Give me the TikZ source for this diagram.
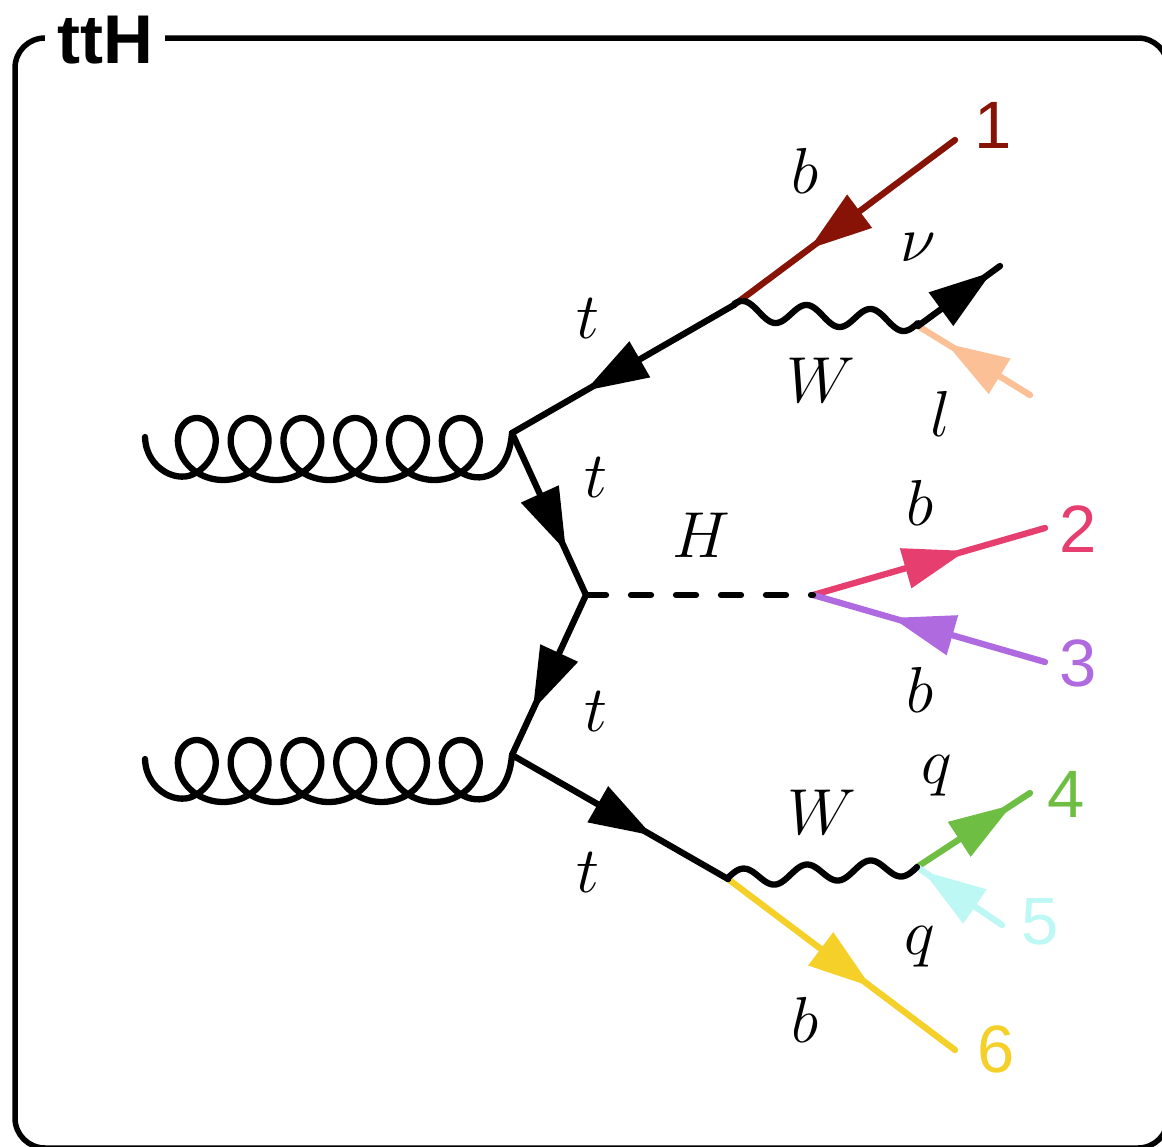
\RequirePackage{fix-cm}
\documentclass[tikz,border=0pt]{standalone}
\usepackage{fontspec}
\newfontfamily\lsans{Liberation Sans}
\usetikzlibrary{arrows.meta,decorations.markings}
\definecolor{cbone}{RGB}{134,19,6}
\definecolor{clep}{RGB}{252,192,150}
\definecolor{cbtwo}{RGB}{230,62,110}
\definecolor{cbthree}{RGB}{176,106,224}
\definecolor{cqfour}{RGB}{110,190,68}
\definecolor{cqfive}{RGB}{190,248,244}
\definecolor{cbsix}{RGB}{244,208,40}
\tikzset{
  pline/.style={line width=6.3pt, line cap=round, line join=round},
  fermion/.style={pline, postaction={decorate},
    decoration={markings, mark=at position #1 with {\arrow{Triangle[length=63pt,width=40pt]}}}},
  higgs/.style={pline, dash pattern=on 20pt off 25pt},
  lab/.style={font=\fontsize{65}{70}\selectfont, inner sep=0pt},
  num/.style={font=\lsans\fontsize{67}{72}\selectfont, inner sep=0pt},
}
\begin{document}
\begin{tikzpicture}[x=1pt, y=-1pt]
\useasboundingbox (0,0) rectangle (1162,1146);
% frame
\draw[line width=5.5pt, rounded corners=30pt] (15,38) rectangle (1168,1148);
\node[fill=white, inner xsep=12pt, inner ysep=2pt, anchor=base west,
      font=\lsans\bfseries\fontsize{69}{74}\selectfont] (title) at (45,63) {ttH};

% vertices
\coordinate (A) at (512,433);
\coordinate (C) at (586,595);
\coordinate (D) at (512,755);
\coordinate (B) at (734,305);
\coordinate (E) at (728,879);
\coordinate (H) at (813,595);
\coordinate (Wu) at (918,326);
\coordinate (Wl) at (917,867);
\coordinate (g1) at (145,437);
\coordinate (g2) at (145,759);
\coordinate (e1) at (955,140);
\coordinate (enu) at (1000,266);
\coordinate (el) at (1030,395);
\coordinate (e2) at (1045,528);
\coordinate (e3) at (1045,662);
\coordinate (e4) at (1030,793);
\coordinate (e5) at (1002,925);
\coordinate (e6) at (955,1050);

% coloured outgoing lines
\draw[fermion=0.66, cbone] (e1) -- (B);
\draw[fermion=0.75, clep] (el) -- (Wu);
\draw[fermion=0.66, cbtwo] (H) -- (e2);
\draw[fermion=0.66, cbthree] (e3) -- (H);
\draw[fermion=0.84, cqfour] (Wl) -- (e4);
\draw[fermion=0.93, cqfive] (e5) -- (Wl);
\draw[fermion=0.63, cbsix] (E) -- (e6);

% black lines
\draw[fermion=0.9] (Wu) -- (enu);
\draw[fermion=0.67] (B) -- (A);
\draw[fermion=0.73] (A) -- (C);
\draw[fermion=0.72] (C) -- (D);
\draw[fermion=0.65] (D) -- (E);
\draw[higgs] (C) -- (H);

% W bosons
\draw[pline] (B) -- plot[domain=734:918, samples=120, smooth, variable=\x]
  ({\x}, {311+0.0625*(\x-743)-10*cos(5.625*(\x-743))}) -- (Wu);
\draw[pline] (E) -- plot[domain=728:917, samples=120, smooth, variable=\x]
  ({\x}, {876.5-0.0635*(\x-760)-9*cos(5.6693*(\x-743))}) -- (Wl);

% gluons
\draw[pline] (g1) .. controls (146,470) and (180,485) .. (196.8,472)
  -- plot[domain=3.863:40.119, samples=360, smooth, variable=\t]
     ({144+8.403*\t-31*sin(\t r)}, {449-31*cos(\t r)})
  .. controls (478,483) and (508,480) .. (A);
\begin{scope}[shift={(0,322)}]
\draw[pline] (g2) .. controls (146,470) and (180,485) .. (196.8,472)
  -- plot[domain=3.863:40.119, samples=360, smooth, variable=\t]
     ({144+8.403*\t-31*sin(\t r)}, {449-31*cos(\t r)})
  .. controls (478,483) and (508,480) .. (D);
\end{scope}

% particle labels
\node[lab] (lb1) at (805,171) {$b$};
\node[lab] (lnu) at (918,248) {$\nu$};
\node[lab] (lWu) at (821,380) {$W$};
\node[lab] (ll) at (941,414) {$l$};
\node[lab] (lt1) at (588,319) {$t$};
\node[lab] (lt2) at (596,478) {$t$};
\node[lab] (lH) at (701,535) {$H$};
\node[lab] (lt3) at (596,712) {$t$};
\node[lab] (lb2) at (920,503) {$b$};
\node[lab] (lb3) at (920,690) {$b$};
\node[lab] (lq4) at (937,776) {$q$};
\node[lab] (lWl) at (822,812) {$W$};
\node[lab] (lq5) at (920,947) {$q$};
\node[lab] (lb6) at (805,1020) {$b$};
\node[lab] (lt4) at (588,872) {$t$};

% numbers
\node[num, text=cbone] (n1) at (993,125) {1};
\node[num, text=cbtwo] (n2) at (1078,529) {2};
\node[num, text=cbthree] (n3) at (1078,663) {3};
\node[num, text=cqfour] (n4) at (1066,794) {4};
\node[num, text=cqfive] (n5) at (1040,922) {5};
\node[num, text=cbsix] (n6) at (996,1049) {6};
\end{tikzpicture}
\end{document}
